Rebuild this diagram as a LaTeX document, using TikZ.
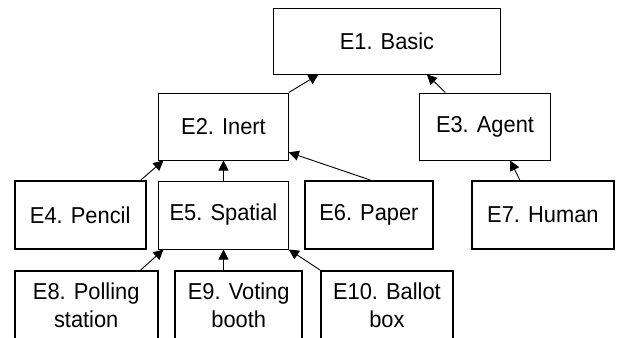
\documentclass[tikz,border=0pt]{standalone}
\usepackage{fontspec}
\setmainfont{Liberation Sans}[FakeStretch=0.95]
\usetikzlibrary{calc,arrows.meta}
\begin{document}
\begin{tikzpicture}[x={(1pt,0)},y={(0,-1pt)},
  box/.style={draw,rectangle,inner sep=0pt,line width=1pt,align=center,
    font=\fontsize{23}{28}\selectfont},
  leaf/.style={box,line width=2pt},
  arr/.style={line width=0.9pt,-{Triangle[length=10pt,width=10pt]}}]
\useasboundingbox (0,0) rectangle (617,337);
\clip (0,0) rectangle (617,337);
\node[box,minimum width=227.4pt,minimum height=65pt] (E1) at (387,41.5) {E1. Basic};
\node[box,minimum width=129.6pt,minimum height=67pt] (E2) at (223.5,126.5) {E2. Inert};
\node[box,minimum width=131.4pt,minimum height=67pt] (E3) at (485,126.5) {E3. Agent};
\node[leaf,minimum width=131pt,minimum height=68pt] (E4) at (80.2,215) {E4. Pencil};
\node[box,minimum width=129.6pt,minimum height=68pt] (E5) at (223.5,215) {E5. Spatial};
\node[leaf,minimum width=127.7pt,minimum height=68pt] (E6) at (368.9,215) {E6. Paper};
\node[leaf,minimum width=142.3pt,minimum height=68pt] (E7) at (542.9,215) {E7. Human};
\node[leaf,minimum width=143pt,minimum height=68pt] (E8) at (86.2,305) {E8. Polling\\station};
\node[leaf,minimum width=127.3pt,minimum height=68pt] (E9) at (238.7,305) {E9. Voting\\booth};
\node[leaf,minimum width=131.7pt,minimum height=68pt] (E10) at (386.9,305) {E10. Ballot\\box};
\draw[arr] (E2.north east) -- ($(E1.south west)!0.2!(E1.south east)$);
\draw[arr] ($(E3.north west)!0.2!(E3.north east)$) -- ($(E1.south west)!0.675!(E1.south east)$);
\draw[arr] ($(E4.north west)!0.956!(E4.north east)$) -- ($(E2.south west)!0.04!(E2.south east)$);
\draw[arr] (E5.north) -- (E2.south);
\draw[arr] ($(E6.north west)!0.51!(E6.north east)$) -- ($(E2.north east)!0.88!(E2.south east)$);
\draw[arr] ($(E7.north west)!0.34!(E7.north east)$) -- ($(E3.south west)!0.69!(E3.south east)$);
\draw[arr] ($(E8.north west)!0.876!(E8.north east)$) -- ($(E5.south west)!0.04!(E5.south east)$);
\draw[arr] (E5.south |- E9.north) -- (E5.south);
\draw[arr] (E10.north west) -- (E5.south east);
\end{tikzpicture}
\end{document}
